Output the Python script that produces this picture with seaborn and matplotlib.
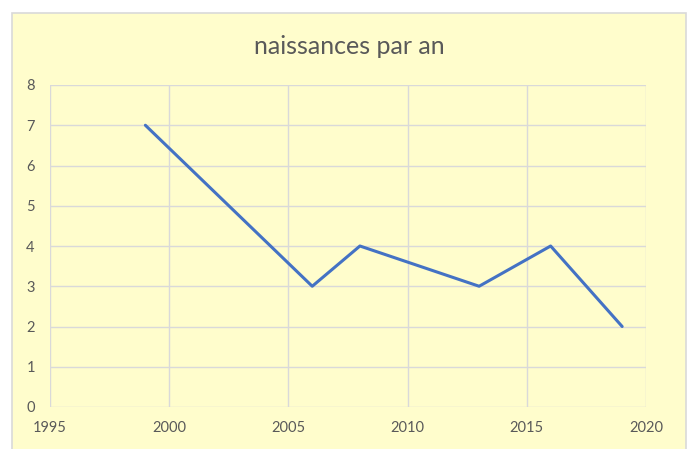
import matplotlib
matplotlib.use("Agg")
import matplotlib.pyplot as plt
import seaborn as sns
import pandas as pd
from matplotlib.patches import Rectangle

years = [1999, 2006, 2008, 2013, 2016, 2019]
births = [7, 3, 4, 3, 4, 2]
x_ticks = [1995, 2000, 2005, 2010, 2015, 2020]
y_ticks = [0, 1, 2, 3, 4, 5, 6, 7, 8]
title = "naissances par an"

sns.set_theme(style="white")
plt.rcParams['font.family'] = ['Lato', 'DejaVu Sans']

W, H = 692, 449
fig = plt.figure(figsize=(W / 100, H / 100), dpi=100)
fig.patch.set_facecolor("white")

bg = "#FFFDCC"
fig.add_artist(Rectangle((12 / W, -0.01), (686 - 12) / W, (H - 13) / H + 0.01,
                         transform=fig.transFigure, facecolor=bg,
                         edgecolor="#D9D9D9", linewidth=1.2, zorder=0))

ax = fig.add_axes([50 / W, (H - 407) / H, (646 - 50) / W, (407 - 85) / H])
ax.set_zorder(2)
ax.set_facecolor(bg)

df = pd.DataFrame({"year": years, "births": births})
sns.lineplot(data=df, x="year", y="births", ax=ax, color="#4472C4",
             linewidth=2.2, zorder=3, solid_joinstyle="round",
             solid_capstyle="round")

ax.set_xlim(x_ticks[0], x_ticks[-1])
ax.set_ylim(y_ticks[0], y_ticks[-1])
ax.set_xticks(x_ticks)
ax.set_yticks(y_ticks)
ax.grid(True, color="#D9D9D9", linewidth=1.0)
for s in ax.spines.values():
    s.set_visible(False)
ax.tick_params(axis="both", length=0, labelsize=10.5, labelcolor="#595959")
ax.tick_params(axis="x", pad=10)
ax.tick_params(axis="y", pad=14)
ax.set_xlabel("")
ax.set_ylabel("")
for lbl in ax.get_yticklabels():
    lbl.set_horizontalalignment("center")

fig.text(349 / W, 1 - 47 / H, title, ha="center", va="center",
         fontsize=18, color="#595959", zorder=3)

fig.savefig("out.png", dpi=100)
